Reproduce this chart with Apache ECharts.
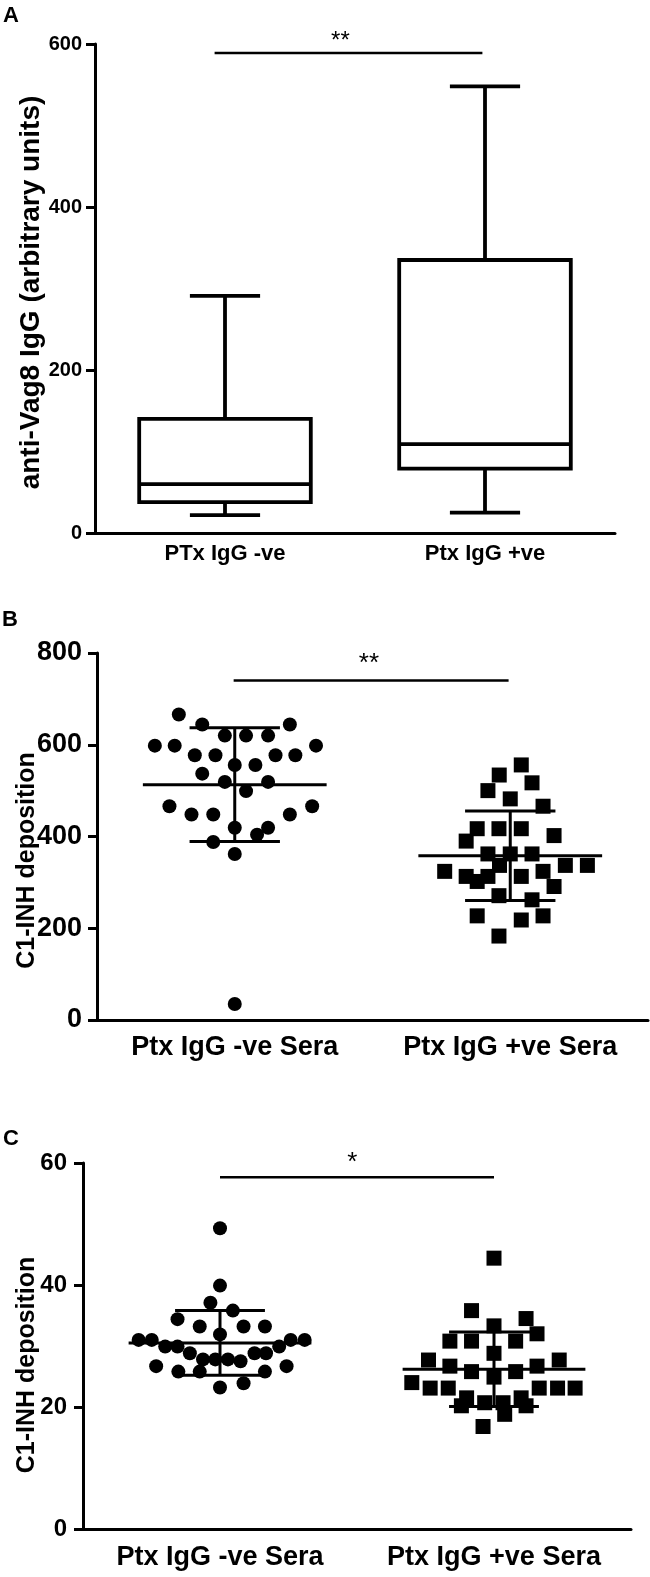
<!DOCTYPE html>
<html>
<head>
<meta charset="utf-8">
<script src="https://cdn.jsdelivr.net/npm/echarts@6/dist/echarts.min.js"></script>
<style>
html, body { margin: 0; padding: 0; background: #fff; }
#charts { width: 650px; height: 1577px; }
</style>
</head>
<body>
<div id="charts"></div>
<script>
// ---- panel A : box plot ----
var boxCats = ['PTx IgG -ve', 'Ptx IgG +ve'];
var boxMin = [22, 25];
var boxQ1 = [38, 79];
var boxMedian = [60, 109];
var boxQ3 = [140, 335];
var boxMax = [291, 548];

// ---- panel B : C1-INH deposition ----
var seraCats = ['Ptx IgG -ve Sera', 'Ptx IgG +ve Sera'];
// horizontal jitter of each point inside its column (category units) and value
var bNegJitter = [-0.203, -0.118, 0.2, -0.036, 0.041, 0.121, -0.29, -0.218, 0.295, -0.145,
                  -0.07, 0.148, 0.22, 0, 0.075, -0.118, -0.036, 0.121, 0.041, -0.237,
                  0.281, -0.157, -0.078, 0.2, 0, 0.121, 0.081, -0.078, 0, 0];
var bNegValue  = [666, 644, 644, 620, 620, 620, 598, 598, 598, 577,
                  577, 577, 577, 556, 556, 537, 519, 519, 499, 466,
                  466, 448, 448, 448, 419, 419, 404, 388, 362, 35];
var bPosJitter = [0.04, -0.04, 0.079, -0.081, 0, 0.119, -0.12, -0.041, 0.04, 0.159,
                  -0.16, -0.081, 0, 0.079, -0.039, 0.2, 0.28, -0.238, 0.119, -0.16,
                  -0.081, 0.04, -0.12, 0.159, -0.041, 0.079, -0.12, 0.119, 0.04, -0.041];
var bPosValue  = [556, 534, 517, 500, 482, 466, 417, 417, 417, 402,
                  390, 362, 362, 362, 337, 337, 337, 324, 324, 313,
                  313, 313, 302, 291, 271, 262, 227, 227, 218, 183];
var bMean = [513, 358];
var bSD = [124, 97.5];

// ---- panel C : C1-INH deposition ----
var cNegJitter = [0, 0, -0.035, 0.047, -0.155, -0.074, 0.086, 0.164, 0, -0.297,
                  -0.249, 0.258, 0.309, -0.2, -0.155, 0.216, -0.11, 0.126, 0.168, -0.062,
                  -0.017, 0.029, 0.075, -0.233, 0.243, -0.152, -0.074, 0.164, 0.086, 0];
var cNegValue  = [49.3, 39.9, 37.1, 35.8, 34.4, 33.2, 33.2, 33.2, 31.9, 31.0,
                  31.0, 31.0, 31.0, 29.9, 29.9, 29.9, 28.8, 28.8, 28.8, 27.8,
                  27.8, 27.8, 27.5, 26.7, 26.7, 25.8, 25.8, 25.8, 23.9, 23.2];
var cPosJitter = [0, -0.082, 0.117, 0, 0.157, -0.161, -0.082, 0.079, 0, -0.239,
                  0.238, -0.161, 0.157, -0.082, 0.079, 0, -0.3, -0.233, -0.167, 0.165,
                  0.232, 0.296, -0.1, 0.099, -0.119, -0.034, 0.033, 0.117, 0.039, -0.04];
var cPosValue  = [44.4, 35.8, 34.5, 33.3, 32.0, 30.8, 30.8, 30.8, 28.8, 27.7,
                  27.7, 26.7, 26.7, 25.8, 25.8, 24.9, 24.0, 23.1, 23.1, 23.1,
                  23.1, 23.1, 21.5, 21.5, 20.2, 20.7, 20.7, 20.2, 18.8, 16.8];
var cMean = [30.5, 26.2];
var cSD = [5.3, 6.1];

// significance bars: [x start, x end], bar value, star position [x, value], label
var sigAX = [0.46, 1.49], sigAY = 589, sigAStar = [0.944, 611], sigALabel = '**';
var sigBX = [0.496, 1.494], sigBY = 740, sigBStar = [0.987, 792], sigBLabel = '**';
var sigCX = [0.5, 1.5], sigCY = 57.65, sigCStar = [0.983, 61.2], sigCLabel = '*';

var FONT = "'Liberation Sans', Arial, Helvetica, sans-serif";
var BLACK = '#000';

function catAxis(grid, cats, fontSize, margin) {
	return {
		type: 'category', gridIndex: grid, data: cats, boundaryGap: true,
		axisLine: { lineStyle: { color: BLACK, width: 3 } },
		axisTick: { alignWithLabel: true, length: 9, lineStyle: { color: BLACK, width: 3 } },
		axisLabel: { color: BLACK, fontWeight: 'bold', fontSize: fontSize, margin: margin, fontFamily: FONT,
		             interval: 0, hideOverlap: false },
		splitLine: { show: false }
	};
}
function valXAxis(grid) {
	return { type: 'value', gridIndex: grid, min: 0, max: 2, show: false };
}
function valYAxis(grid, max, interval, fontSize, margin, name, nameSize, nameGap, namePad) {
	return {
		type: 'value', gridIndex: grid, min: 0, max: max, interval: interval,
		name: name, nameLocation: 'middle', nameRotate: 90, nameGap: nameGap, nameMoveOverlap: false,
		nameTextStyle: { color: BLACK, fontWeight: 'bold', fontSize: nameSize, fontFamily: FONT, padding: namePad },
		axisLine: { show: true, lineStyle: { color: BLACK, width: 3 } },
		axisTick: { show: true, length: 9, lineStyle: { color: BLACK, width: 3 } },
		axisLabel: { color: BLACK, fontWeight: 'bold', fontSize: fontSize, margin: margin, fontFamily: FONT },
		splitLine: { show: false }
	};
}

function renderBox(params, api) {
	var x = api.value(0);
	var pMin = api.coord([x, api.value(1)]);
	var pQ1 = api.coord([x, api.value(2)]);
	var pMed = api.coord([x, api.value(3)]);
	var pQ3 = api.coord([x, api.value(4)]);
	var pMax = api.coord([x, api.value(5)]);
	var hb = api.size([0.66, 0])[0] / 2;
	var hc = api.size([0.27, 0])[0] / 2;
	var st = { stroke: BLACK, lineWidth: 3.8, fill: null };
	var cx = pMed[0];
	return {
		type: 'group', children: [
			{ type: 'line', shape: { x1: cx, y1: pQ3[1], x2: cx, y2: pMax[1] }, style: st },
			{ type: 'line', shape: { x1: cx, y1: pQ1[1], x2: cx, y2: pMin[1] }, style: st },
			{ type: 'line', shape: { x1: cx - hc, y1: pMax[1], x2: cx + hc, y2: pMax[1] }, style: st },
			{ type: 'line', shape: { x1: cx - hc, y1: pMin[1], x2: cx + hc, y2: pMin[1] }, style: st },
			{ type: 'rect', shape: { x: cx - hb, y: pQ3[1], width: 2 * hb, height: pQ1[1] - pQ3[1] }, style: st },
			{ type: 'line', shape: { x1: cx - hb, y1: pMed[1], x2: cx + hb, y2: pMed[1] }, style: st }
		]
	};
}

function renderMeanSD(params, api) {
	var x = api.value(0), m = api.value(1), sd = api.value(2);
	var pM = api.coord([x, m]);
	var pU = api.coord([x, m + sd]);
	var pL = api.coord([x, m - sd]);
	var hm = api.size([0.667, 0])[0] / 2;
	var hs = api.size([0.328, 0])[0] / 2;
	var st = { stroke: BLACK, lineWidth: 3, fill: null };
	return {
		type: 'group', children: [
			{ type: 'line', shape: { x1: pM[0], y1: pU[1], x2: pM[0], y2: pL[1] }, style: st },
			{ type: 'line', shape: { x1: pM[0] - hm, y1: pM[1], x2: pM[0] + hm, y2: pM[1] }, style: st },
			{ type: 'line', shape: { x1: pM[0] - hs, y1: pU[1], x2: pM[0] + hs, y2: pU[1] }, style: st },
			{ type: 'line', shape: { x1: pM[0] - hs, y1: pL[1], x2: pM[0] + hs, y2: pL[1] }, style: st }
		]
	};
}

function sigRenderer(label, fontSize) {
	return function (params, api) {
		var y = api.value(2);
		var p0 = api.coord([api.value(0), y]);
		var p1 = api.coord([api.value(1), y]);
		var ps = api.coord([api.value(3), api.value(4)]);
		return {
			type: 'group', children: [
				{ type: 'line', shape: { x1: p0[0], y1: p0[1], x2: p1[0], y2: p1[1] }, style: { stroke: BLACK, lineWidth: 2.5 } },
				{ type: 'text', x: ps[0], y: ps[1] + fontSize * 0.27,
				  style: { text: label, fill: BLACK, fontSize: fontSize, fontFamily: FONT, align: 'center', verticalAlign: 'middle' } }
			]
		};
	};
}

function points(jitter, values, center) {
	return jitter.map(function (j, i) { return [center + j, values[i]]; });
}

var letterStyle = { fontSize: 22, fontWeight: 'bold', color: BLACK, fontFamily: FONT };
var myChart = echarts.init(document.getElementById('charts'));
var option = {
	backgroundColor: '#fff',
	animation: false,
	textStyle: { fontFamily: FONT },
	title: [
		{ text: 'A', left: 3, top: 5, padding: 0, textStyle: letterStyle },
		{ text: 'B', left: 2, top: 609, padding: 0, textStyle: letterStyle },
		{ text: 'C', left: 3, top: 1128, padding: 0, textStyle: letterStyle }
	],
	grid: [
		{ left: 95, top: 44, width: 520, height: 489 },
		{ left: 97, top: 653, width: 551, height: 367 },
		{ left: 83, top: 1163, width: 548, height: 366 }
	],
	xAxis: [
		catAxis(0, boxCats, 22, 10), valXAxis(0),
		catAxis(1, seraCats, 27, 14), valXAxis(1),
		catAxis(2, seraCats, 27, 15), valXAxis(2)
	],
	yAxis: [
		valYAxis(0, 600, 200, 20, 13, 'anti-Vag8 IgG (arbitrary units)', 28, 50, [0, 8, 0, 0]),
		valYAxis(1, 800, 200, 27, 15, 'C1-INH deposition', 25, 57, [0, 48, 0, 0]),
		valYAxis(2, 60, 20, 24, 16, 'C1-INH deposition', 25, 43, [0, 38, 0, 0])
	],
	series: [
		{
			type: 'custom', xAxisIndex: 1, yAxisIndex: 0, renderItem: renderBox,
			data: boxCats.map(function (c, i) { return [i + 0.5, boxMin[i], boxQ1[i], boxMedian[i], boxQ3[i], boxMax[i]]; })
		},
		{
			type: 'custom', xAxisIndex: 1, yAxisIndex: 0, renderItem: sigRenderer(sigALabel, 24),
			data: [[sigAX[0], sigAX[1], sigAY, sigAStar[0], sigAStar[1]]]
		},
		{
			type: 'scatter', xAxisIndex: 3, yAxisIndex: 1, symbol: 'circle', symbolSize: 14,
			itemStyle: { color: BLACK, opacity: 1 }, data: points(bNegJitter, bNegValue, 0.5)
		},
		{
			type: 'scatter', xAxisIndex: 3, yAxisIndex: 1, symbol: 'rect', symbolSize: 15,
			itemStyle: { color: BLACK, opacity: 1 }, data: points(bPosJitter, bPosValue, 1.5)
		},
		{
			type: 'custom', xAxisIndex: 3, yAxisIndex: 1, renderItem: renderMeanSD,
			data: bMean.map(function (m, i) { return [i + 0.5, m, bSD[i]]; })
		},
		{
			type: 'custom', xAxisIndex: 3, yAxisIndex: 1, renderItem: sigRenderer(sigBLabel, 26),
			data: [[sigBX[0], sigBX[1], sigBY, sigBStar[0], sigBStar[1]]]
		},
		{
			type: 'scatter', xAxisIndex: 5, yAxisIndex: 2, symbol: 'circle', symbolSize: 14,
			itemStyle: { color: BLACK, opacity: 1 }, data: points(cNegJitter, cNegValue, 0.5)
		},
		{
			type: 'scatter', xAxisIndex: 5, yAxisIndex: 2, symbol: 'rect', symbolSize: 15,
			itemStyle: { color: BLACK, opacity: 1 }, data: points(cPosJitter, cPosValue, 1.5)
		},
		{
			type: 'custom', xAxisIndex: 5, yAxisIndex: 2, renderItem: renderMeanSD,
			data: cMean.map(function (m, i) { return [i + 0.5, m, cSD[i]]; })
		},
		{
			type: 'custom', xAxisIndex: 5, yAxisIndex: 2, renderItem: sigRenderer(sigCLabel, 26),
			data: [[sigCX[0], sigCX[1], sigCY, sigCStar[0], sigCStar[1]]]
		}
	]
};
myChart.setOption(option);
</script>
</body>
</html>
